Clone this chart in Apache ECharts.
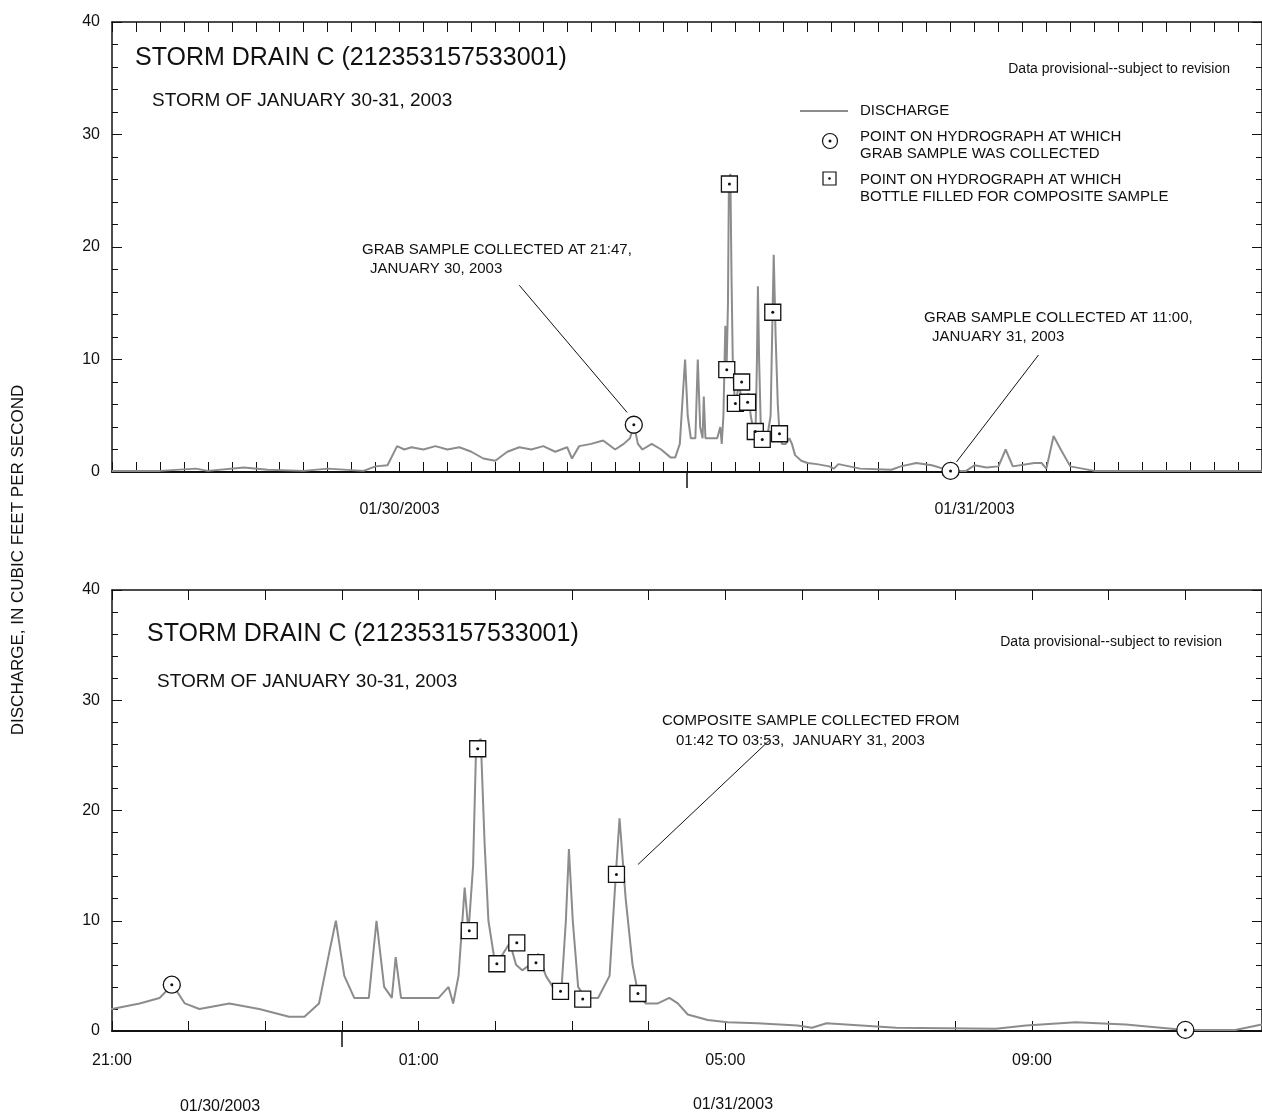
<!DOCTYPE html>
<html>
<head>
<meta charset="utf-8">
<script src="https://cdn.jsdelivr.net/npm/echarts@6/dist/echarts.min.js"></script>
<style>html,body{margin:0;background:#fff}#c{width:1262px;height:1119px}</style>
</head>
<body>
<div id="c"></div>
<script>
// hours since 01/30/2003 00:00
const dischargeHours = [0,2,3.5,4,5.5,6.5,8,9,10.5,11,11.5,11.9,12.2,12.5,13,13.5,14,14.5,15,15.5,16,16.5,17,17.5,18,18.5,19,19.2,19.5,20,20.5,
  21.00,21.36,21.62,21.79,21.95,22.14,22.53,22.92,23.31,23.51,23.70,23.83,23.92,24.03,24.16,24.35,24.45,24.55,24.65,24.70,24.77,25.00,25.26,25.39,25.45,25.52,25.60,25.65,25.71,25.75,25.81,25.86,25.91,26.00,26.10,26.19,26.27,26.35,26.45,26.56,26.66,26.75,26.86,26.92,26.96,27.01,27.08,27.17,27.34,27.49,27.57,27.62,27.70,27.79,27.86,27.96,28.12,28.27,28.38,28.51,28.77,29.03,29.42,29.94,30.13,30.32,31.23,32.53,32.92,33.57,34.22,35.0,35.65,36.0,
  36.5,37,37.3,37.6,38.5,38.8,39,39.3,39.6,40,41,48];
const dischargeCfs = [0.1,0.1,0.3,0.1,0.4,0.2,0.1,0.3,0.1,0.5,0.6,2.3,2,2.2,2,2.3,2,2.2,1.8,1.2,1,1.8,2.2,2,2.3,1.8,2.2,1.2,2.3,2.5,2.8,
  2,2.5,3,4.2,2.5,2,2.5,2,1.3,1.3,2.5,7,10,5,3,3,10,4,3,6.7,3,3,3,4,2.5,5,13,9,15,26,26.5,17,10,6,7,8,6,5.5,6,7,5,4,3.5,10,16.5,10,4,3,3,5,14,19.3,12,6,3.5,2.5,2.5,3,2.5,1.5,1,0.8,0.7,0.5,0.3,0.7,0.3,0.2,0.5,0.8,0.6,0.1,0.1,0.6,
  0.4,0.5,2,0.5,0.8,0.8,0.3,3.2,2,0.5,0.1,0.1];
const grabHours = [21.78, 35.0];
const grabCfs = [4.2, 0.1];
const bottleHours = [25.66, 25.77, 26.02, 26.28, 26.53, 26.85, 27.14, 27.58, 27.86];
const bottleCfs = [9.1, 25.6, 6.1, 8.0, 6.2, 3.6, 2.9, 14.2, 3.4];
const yTicks = [0, 10, 20, 30, 40];
const bottomTimeTicks = [21, 25, 29, 33];
const bottomTimeLabels = ['21:00', '01:00', '05:00', '09:00'];

const line = dischargeHours.map((h, i) => [h, dischargeCfs[i]]);
const grab = grabHours.map((h, i) => [h, grabCfs[i]]);
const bottle = bottleHours.map((h, i) => [h, bottleCfs[i]]);
const F = 'Liberation Sans, Arial, sans-serif';
const ink = '#111';

function yAx(grid, right) {
  return {
    type: 'value', gridIndex: grid, min: yTicks[0], max: yTicks[yTicks.length - 1], interval: 10, position: right ? 'right' : 'left',
    axisLine: { show: true, onZero: false, lineStyle: { color: ink, width: 1.5 } },
    axisTick: { show: true, inside: true, length: 10, lineStyle: { color: ink } },
    minorTick: { show: true, splitNumber: 5, length: 6, lineStyle: { color: ink } },
    axisLabel: { show: !right, color: ink, fontSize: 16, fontFamily: F, margin: 12 },
    splitLine: { show: false }
  };
}
function xTicks(grid, min, max, top) {
  return {
    type: 'value', gridIndex: grid, min, max, interval: 1, position: top ? 'top' : 'bottom',
    axisLine: { show: true, onZero: false, lineStyle: { color: ink, width: top ? 1.5 : 2 } },
    axisTick: { show: true, inside: true, length: 10, lineStyle: { color: ink } },
    axisLabel: { show: false }, splitLine: { show: false }
  };
}
function xMajor(grid, min, max, majors, labelVals, fmt, margin) {
  return {
    type: 'value', gridIndex: grid, min, max, position: 'bottom',
    axisLine: { show: false, onZero: false },
    axisTick: { show: true, length: 16, customValues: majors, lineStyle: { color: ink, width: 1.5 } },
    axisLabel: { show: true, customValues: labelVals, formatter: fmt, color: ink, fontSize: 16, fontFamily: F, margin },
    splitLine: { show: false }
  };
}
function seriesFor(xi, yi, ann) {
  return [
    { type: 'line', xAxisIndex: xi, yAxisIndex: yi, data: line, showSymbol: false, z: 2, lineStyle: { color: '#8c8c8c', width: 2 } },
    { type: 'scatter', xAxisIndex: xi, yAxisIndex: yi, data: grab, symbol: 'circle', symbolSize: 17, z: 5,
      itemStyle: { color: '#fff', opacity: 1, borderColor: ink, borderWidth: 1.3 },
      markLine: { symbol: 'none', silent: true, label: { show: false }, lineStyle: { color: ink, type: 'solid', width: 1 }, data: ann } },
    { type: 'scatter', xAxisIndex: xi, yAxisIndex: yi, data: bottle, symbol: 'rect', symbolSize: 16, z: 5,
      itemStyle: { color: '#fff', opacity: 1, borderColor: ink, borderWidth: 1.3 } },
    { type: 'scatter', xAxisIndex: xi, yAxisIndex: yi, data: grab.concat(bottle), symbol: 'circle', symbolSize: 3, z: 6, itemStyle: { color: ink, opacity: 1 } }
  ];
}
const dayFmt = v => (v < 24 ? '01/30/2003' : '01/31/2003');
const timeFmt = v => bottomTimeLabels[bottomTimeTicks.indexOf(Math.round(v))] || '';

const txt = (x, y, t, size, align) => ({ type: 'text', x, y, style: { text: t, font: size + 'px ' + F, fill: ink, textAlign: align || 'left', textVerticalAlign: 'middle' } });

const chart = echarts.init(document.getElementById('c'));
chart.setOption({
  backgroundColor: '#fff',
  animation: false,
  grid: [
    { left: 112, top: 22, width: 1150, height: 450 },
    { left: 112, top: 590, width: 1150, height: 441 }
  ],
  xAxis: [
    xTicks(0, 0, 48, false), xTicks(0, 0, 48, true), xMajor(0, 0, 48, [24], [12, 36], dayFmt, 30),
    xTicks(1, 21, 36, false), xTicks(1, 21, 36, true), xMajor(1, 21, 36, [24], bottomTimeTicks, timeFmt, 22)
  ],
  yAxis: [yAx(0, false), yAx(0, true), yAx(1, false), yAx(1, true)],
  series: [
    ...seriesFor(0, 0, [
      [{ coord: [17.0, 16.6] }, { coord: [21.5, 5.3] }],
      [{ coord: [38.67, 10.4] }, { coord: [35.25, 0.9] }]
    ]),
    ...seriesFor(3, 2, [
      [{ coord: [29.58, 26.4] }, { coord: [27.86, 15.1] }]
    ])
  ],
  graphic: [
    { type: 'text', x: 18, y: 560, rotation: Math.PI / 2, style: { text: 'DISCHARGE, IN CUBIC FEET PER SECOND', font: '17px ' + F, fill: ink, textAlign: 'center', textVerticalAlign: 'middle' } },
    txt(135, 58, 'STORM DRAIN C (212353157533001)', 25),
    txt(152, 101, 'STORM OF JANUARY 30-31, 2003', 19),
    txt(1230, 69, 'Data provisional--subject to revision', 14, 'right'),
    { type: 'line', shape: { x1: 800, y1: 111, x2: 848, y2: 111 }, style: { stroke: '#8c8c8c', lineWidth: 2 } },
    txt(860, 111, 'DISCHARGE', 15),
    { type: 'circle', shape: { cx: 830, cy: 141, r: 7.5 }, style: { fill: '#fff', stroke: ink, lineWidth: 1.2 } },
    { type: 'circle', shape: { cx: 830, cy: 141, r: 1.5 }, style: { fill: ink } },
    txt(860, 137, 'POINT ON HYDROGRAPH AT WHICH', 15),
    txt(860, 154, 'GRAB SAMPLE WAS COLLECTED', 15),
    { type: 'rect', shape: { x: 823, y: 172, width: 13, height: 13 }, style: { fill: '#fff', stroke: ink, lineWidth: 1.2 } },
    { type: 'circle', shape: { cx: 829.5, cy: 178.5, r: 1.3 }, style: { fill: ink } },
    txt(860, 180, 'POINT ON HYDROGRAPH AT WHICH', 15),
    txt(860, 197, 'BOTTLE FILLED FOR COMPOSITE SAMPLE', 15),
    txt(362, 250, 'GRAB SAMPLE COLLECTED AT 21:47,', 15),
    txt(370, 269, 'JANUARY 30, 2003', 15),
    txt(924, 318, 'GRAB SAMPLE COLLECTED AT 11:00,', 15),
    txt(932, 337, 'JANUARY 31, 2003', 15),
    txt(147, 634, 'STORM DRAIN C (212353157533001)', 25),
    txt(157, 682, 'STORM OF JANUARY 30-31, 2003', 19),
    txt(1222, 642, 'Data provisional--subject to revision', 14, 'right'),
    txt(662, 721, 'COMPOSITE SAMPLE COLLECTED FROM', 15),
    txt(676, 741, '01:42 TO 03:53,  JANUARY 31, 2003', 15),
    txt(220, 1107, '01/30/2003', 16, 'center'),
    txt(733, 1105, '01/31/2003', 16, 'center')
  ]
});
</script>
</body>
</html>
